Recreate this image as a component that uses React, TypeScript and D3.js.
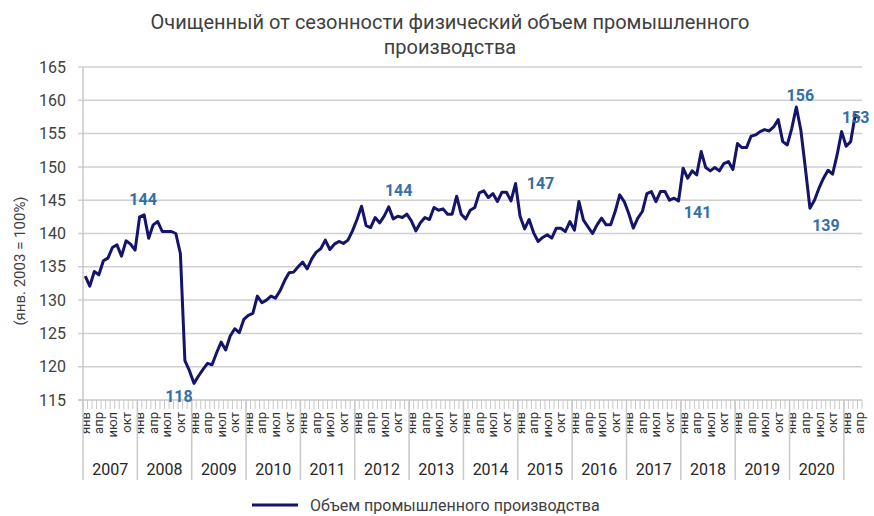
import React, { useEffect, useRef } from 'react';
import * as d3 from 'd3';

const MONTHS = ['янв', 'фев', 'мар', 'апр', 'май', 'июн', 'июл', 'авг', 'сен', 'окт', 'ноя', 'дек'];
const YEARS = [2007, 2008, 2009, 2010, 2011, 2012, 2013, 2014, 2015, 2016, 2017, 2018, 2019, 2020, 2021];
const Y_TICKS = [115, 120, 125, 130, 135, 140, 145, 150, 155, 160, 165];

// seasonally adjusted industrial output index, jan 2007 .. apr 2021
const VALUES = [
  133.6, 132.1, 134.3, 133.8, 135.9, 136.3, 137.9, 138.3, 136.6, 138.9, 138.4, 137.5,
  142.5, 142.8, 139.3, 141.3, 141.8, 140.3, 140.3, 140.3, 140.0, 137.0, 120.9, 119.4,
  117.5, 118.6, 119.6, 120.5, 120.3, 122.1, 123.7, 122.5, 124.6, 125.7, 125.1, 127.1,
  127.7, 128.0, 130.6, 129.6, 130.0, 130.6, 130.3, 131.4, 132.9, 134.1, 134.2, 135.0,
  135.7, 134.7, 136.2, 137.2, 137.7, 139.0, 137.6, 138.4, 138.8, 138.5, 139.0, 140.4,
  142.1, 144.1, 141.2, 140.9, 142.4, 141.6, 142.6, 144.0, 142.2, 142.6, 142.4, 142.9,
  141.9, 140.4, 141.6, 142.4, 142.1, 143.9, 143.5, 143.7, 142.9, 142.9, 145.6, 142.9,
  142.2, 143.5, 143.9, 146.1, 146.4, 145.4, 146.0, 144.8, 146.2, 146.2, 144.9, 147.5,
  142.6, 140.7, 142.1, 140.1, 138.8, 139.4, 139.8, 139.3, 140.8, 140.8, 140.3, 141.8,
  140.5, 144.8, 142.0, 141.0, 140.0, 141.3, 142.3, 141.3, 141.3, 143.3, 145.8, 144.8,
  143.0, 140.8, 142.3, 143.3, 146.0, 146.3, 144.8, 146.3, 146.3, 145.0, 145.3, 144.9,
  149.8, 148.3, 149.4, 148.8, 152.3, 149.9, 149.4, 149.9, 149.4, 150.5, 150.8, 149.6,
  153.5, 152.9, 152.9, 154.6, 154.8, 155.3, 155.6, 155.4, 156.0, 157.1, 153.8, 153.3,
  155.8, 159.0, 155.5, 149.8, 143.8, 145.0, 146.8, 148.3, 149.5, 148.9, 151.8, 155.3,
  153.1, 153.8, 157.8, 157.3
];

// data labels: index of the point, text, offset from the point in px
const LABEL_INDEX = [13, 24, 67, 95, 131, 157, 160, 171];
const LABEL_TEXT = ['144', '118', '144', '147', '141', '156', '139', '153'];
const LABEL_DX = [-1, -15, 10, 25, 19, 4, 16, -4];
const LABEL_DY = [-15, 13, -16, 0, 12, -12, 17, -1];

const FONT = 'Roboto, "Noto Sans", sans-serif';

const App: React.FC = () => {
  const svgRef = useRef<SVGSVGElement>(null);

  useEffect(() => {
    if (!svgRef.current) {
      return;
    }
    const width = 874;
    const height = 516;
    const margin = { top: 67, right: 12, bottom: 116, left: 83 };

    const svg = d3.select(svgRef.current);
    svg.selectAll('*').remove();
    svg.attr('width', width).attr('height', height).attr('viewBox', `0 0 ${width} ${height}`);

    svg.append('rect').attr('width', width).attr('height', height).attr('fill', '#ffffff');

    const categories = VALUES.map((_, i) => i);
    const x = d3
      .scaleBand<number>()
      .domain(categories)
      .range([margin.left, width - margin.right])
      .padding(0);
    const y = d3
      .scaleLinear()
      .domain([115, 165])
      .range([height - margin.bottom, margin.top]);

    const bw = x.bandwidth();
    const cx = (i: number) => (x(i) as number) + bw / 2;
    const plotRight = width - margin.right;
    const plotBottom = height - margin.bottom;

    // gridlines + y labels
    const yAxis = svg.append('g');
    Y_TICKS.forEach((t) => {
      yAxis
        .append('line')
        .attr('x1', margin.left - 5)
        .attr('x2', t === 115 ? margin.left : plotRight)
        .attr('y1', y(t))
        .attr('y2', y(t))
        .attr('stroke', '#d0d0d0')
        .attr('stroke-width', 1.5);
      yAxis
        .append('text')
        .attr('x', margin.left - 17)
        .attr('y', y(t))
        .attr('dy', '0.35em')
        .attr('text-anchor', 'end')
        .attr('fill', '#404040')
        .attr('font-family', FONT)
        .attr('font-size', '16px')
        .text(t);
    });

    // y axis line
    svg
      .append('line')
      .attr('x1', margin.left)
      .attr('x2', margin.left)
      .attr('y1', margin.top)
      .attr('y2', plotBottom)
      .attr('stroke', '#c8c8c8')
      .attr('stroke-width', 1.5);

    // x axis line
    svg
      .append('line')
      .attr('x1', margin.left - 5)
      .attr('x2', plotRight)
      .attr('y1', plotBottom)
      .attr('y2', plotBottom)
      .attr('stroke', '#c8c8c8')
      .attr('stroke-width', 1.5);

    // month ticks
    const ticks = svg.append('g');
    categories.concat([VALUES.length]).forEach((i) => {
      const px = i < VALUES.length ? (x(i) as number) : plotRight;
      ticks
        .append('line')
        .attr('x1', px)
        .attr('x2', px)
        .attr('y1', plotBottom)
        .attr('y2', plotBottom + 9)
        .attr('stroke', '#c8c8c8')
        .attr('stroke-width', 1);
    });

    // month labels every quarter
    const monthLabels = svg.append('g');
    categories
      .filter((i) => i % 3 === 0)
      .forEach((i) => {
        monthLabels
          .append('text')
          .attr('transform', `translate(${cx(i)}, ${plotBottom + 12}) rotate(-90)`)
          .attr('text-anchor', 'end')
          .attr('dy', '0.35em')
          .attr('fill', '#333333')
          .attr('font-family', FONT)
          .attr('font-size', '13px')
          .text(MONTHS[i % 12]);
      });

    // year separators and labels
    const yearGroup = svg.append('g');
    YEARS.forEach((yr, k) => {
      const start = k * 12;
      const px = x(start) as number;
      yearGroup
        .append('line')
        .attr('x1', px)
        .attr('x2', px)
        .attr('y1', plotBottom)
        .attr('y2', plotBottom + 80)
        .attr('stroke', '#c8c8c8')
        .attr('stroke-width', 1.5);
      if (start + 11 < VALUES.length) {
        yearGroup
          .append('text')
          .attr('x', px + bw * 6)
          .attr('y', plotBottom + 69)
          .attr('dy', '0.35em')
          .attr('text-anchor', 'middle')
          .attr('fill', '#262626')
          .attr('font-family', FONT)
          .attr('font-size', '16px')
          .text(yr);
      }
    });

    // the line
    const line = d3
      .line<number>()
      .x((_, i) => cx(i))
      .y((d) => y(d));
    svg
      .append('path')
      .datum(VALUES)
      .attr('d', line)
      .attr('fill', 'none')
      .attr('stroke', '#14146b')
      .attr('stroke-width', 3)
      .attr('stroke-linejoin', 'round');

    // data labels
    LABEL_INDEX.forEach((idx, k) => {
      svg
        .append('text')
        .attr('x', cx(idx) + LABEL_DX[k])
        .attr('y', y(VALUES[idx]) + LABEL_DY[k])
        .attr('dy', '0.35em')
        .attr('text-anchor', 'middle')
        .attr('fill', '#3470a8')
        .attr('font-family', FONT)
        .attr('font-weight', '700')
        .attr('font-size', '16px')
        .text(LABEL_TEXT[k]);
    });

    // y title
    svg
      .append('text')
      .attr('transform', `translate(20, 261) rotate(-90)`)
      .attr('text-anchor', 'middle')
      .attr('dy', '0.35em')
      .attr('fill', '#404040')
      .attr('font-family', FONT)
      .attr('font-size', '15px')
      .text('(янв. 2003 = 100%)');

    // title
    const title = svg
      .append('text')
      .attr('text-anchor', 'middle')
      .attr('fill', '#404040')
      .attr('font-family', FONT)
      .attr('font-size', '20px');
    title.append('tspan').attr('x', 450).attr('y', 29).text('Очищенный от сезонности физический объем промышленного');
    title.append('tspan').attr('x', 450).attr('y', 54).text('производства');

    // legend
    const legend = svg.append('g').attr('transform', `translate(252, 505)`);
    legend
      .append('line')
      .attr('x1', 0)
      .attr('x2', 46)
      .attr('stroke', '#14146b')
      .attr('stroke-width', 3);
    legend
      .append('text')
      .attr('x', 58)
      .attr('dy', '0.35em')
      .attr('fill', '#404040')
      .attr('font-family', FONT)
      .attr('font-size', '16px')
      .text('Объем промышленного производства');
  }, []);

  return (
    <div>
      <style>{'body{margin:0}'}</style>
      <svg ref={svgRef} style={{ display: 'block' }} />
    </div>
  );
};

export default App;
